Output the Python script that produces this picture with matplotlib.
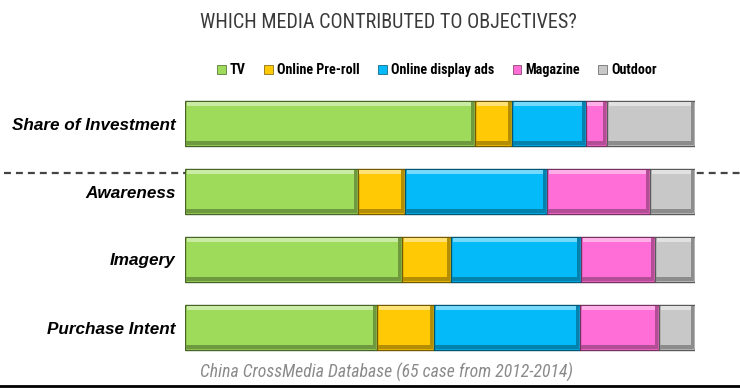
"""Barras apiladas: qué medios contribuyeron a los objetivos."""

import numpy as np
import matplotlib
matplotlib.use('Agg')
import matplotlib.pyplot as plt
import matplotlib.colors as mcolors
from matplotlib.transforms import blended_transform_factory

categories = ["Share of Investment", "Awareness", "Imagery", "Purchase Intent"]
media = ["TV", "Online Pre-roll", "Online display ads", "Magazine", "Outdoor"]
tv = [56.9, 33.9, 42.6, 37.7]
preroll = [7.3, 9.3, 9.6, 11.2]
display = [14.4, 27.8, 25.5, 28.6]
magazine = [4.2, 20.2, 14.5, 15.5]
outdoor = [17.2, 8.8, 7.8, 7.0]
colors = ["#9FDB5A", "#FFC905", "#05BAF9", "#FF6ED6", "#C8C8C8"]

NARROW = ["Roboto Condensed", "Liberation Sans Narrow", "DejaVu Sans"]


def shade(c, f):
    rgb = np.array(mcolors.to_rgb(c))
    if f < 1:
        return tuple(rgb * f)
    return tuple(rgb + (1 - rgb) * (f - 1))


def main():
    plt.rcParams['lines.scale_dashes'] = False
    fig = plt.figure(figsize=(7.4, 3.89), dpi=100)
    ax = fig.add_axes([185 / 740, 1 - 361.5 / 389, 510 / 740, 272 / 389])
    ax.patch.set_visible(False)

    y = np.arange(len(categories))
    h = 0.66
    t = 0.06
    series = [tv, preroll, display, magazine, outdoor]
    left = np.zeros(len(categories))
    for name, vals, col in zip(media, series, colors):
        vals = np.array(vals)
        ax.barh(y, vals, left=left, height=h, color=col, label=name,
                edgecolor=shade(col, 0.45), linewidth=1.0, zorder=2)
        # bisel: franja clara arriba, oscura abajo y a la derecha
        ax.barh(y - h / 2 + t / 2 + 0.01, vals - 0.6, left=left + 0.3, height=t,
                color=shade(col, 1.45), linewidth=0, zorder=3)
        ax.barh(y + h / 2 - t / 2 - 0.01, vals - 0.4, left=left + 0.2, height=t,
                color=shade(col, 0.7), linewidth=0, zorder=3)
        ax.barh(y, np.full(len(y), 0.6), left=left + vals - 0.8, height=h - 0.04,
                color=shade(col, 0.7), linewidth=0, zorder=3)
        left += vals

    ax.set_xlim(0, 100)
    ax.set_ylim(len(categories) - 0.5, -0.5)
    ax.set_xticks([])
    ax.set_yticks(y)
    ax.set_yticklabels(categories, fontsize=12.3, fontweight="bold",
                       fontstyle="italic", family=["Liberation Sans", "DejaVu Sans"])
    ax.tick_params(axis="y", length=0, pad=7)
    for s in ax.spines.values():
        s.set_visible(False)

    # línea discontinua entre inversión y objetivos
    tr = blended_transform_factory(fig.transFigure, ax.transData)
    ax.plot([0.005, 1.0], [0.73, 0.73], transform=tr, clip_on=False,
            color="#444444", lw=1.6, dashes=(5, 3.6), zorder=1)

    leg = ax.legend(loc="center", ncol=5, frameon=False, handlelength=0.6,
                    handleheight=0.6, handletextpad=0.3, columnspacing=1.3,
                    borderaxespad=0,
                    prop={"family": NARROW, "weight": "bold", "size": 10.2,
                          "stretch": "condensed"})
    leg.set_bbox_to_anchor((437 / 740, 1 - 70 / 389), transform=fig.transFigure)
    for hnd in leg.legend_handles:
        hnd.set_linewidth(0.5)

    fig.text(388 / 740, 1 - 22 / 389, "WHICH MEDIA CONTRIBUTED TO OBJECTIVES?",
             ha="center", va="center", fontsize=14.5, color="#3a3a3a",
             family=NARROW, fontstretch="condensed")
    fig.text(387 / 740, 1 - 372 / 389, "China CrossMedia Database (65 case from 2012-2014)",
             ha="center", va="center", fontsize=12.8, color="#8a8a8a",
             fontstyle="italic", family=NARROW, fontstretch="condensed")
    fig.add_artist(plt.Line2D([0, 1], [1 - 386 / 389] * 2, transform=fig.transFigure,
                              color="black", lw=2))

    fig.savefig("out.png", dpi=100)
    plt.close(fig)


if __name__ == "__main__":
    main()
